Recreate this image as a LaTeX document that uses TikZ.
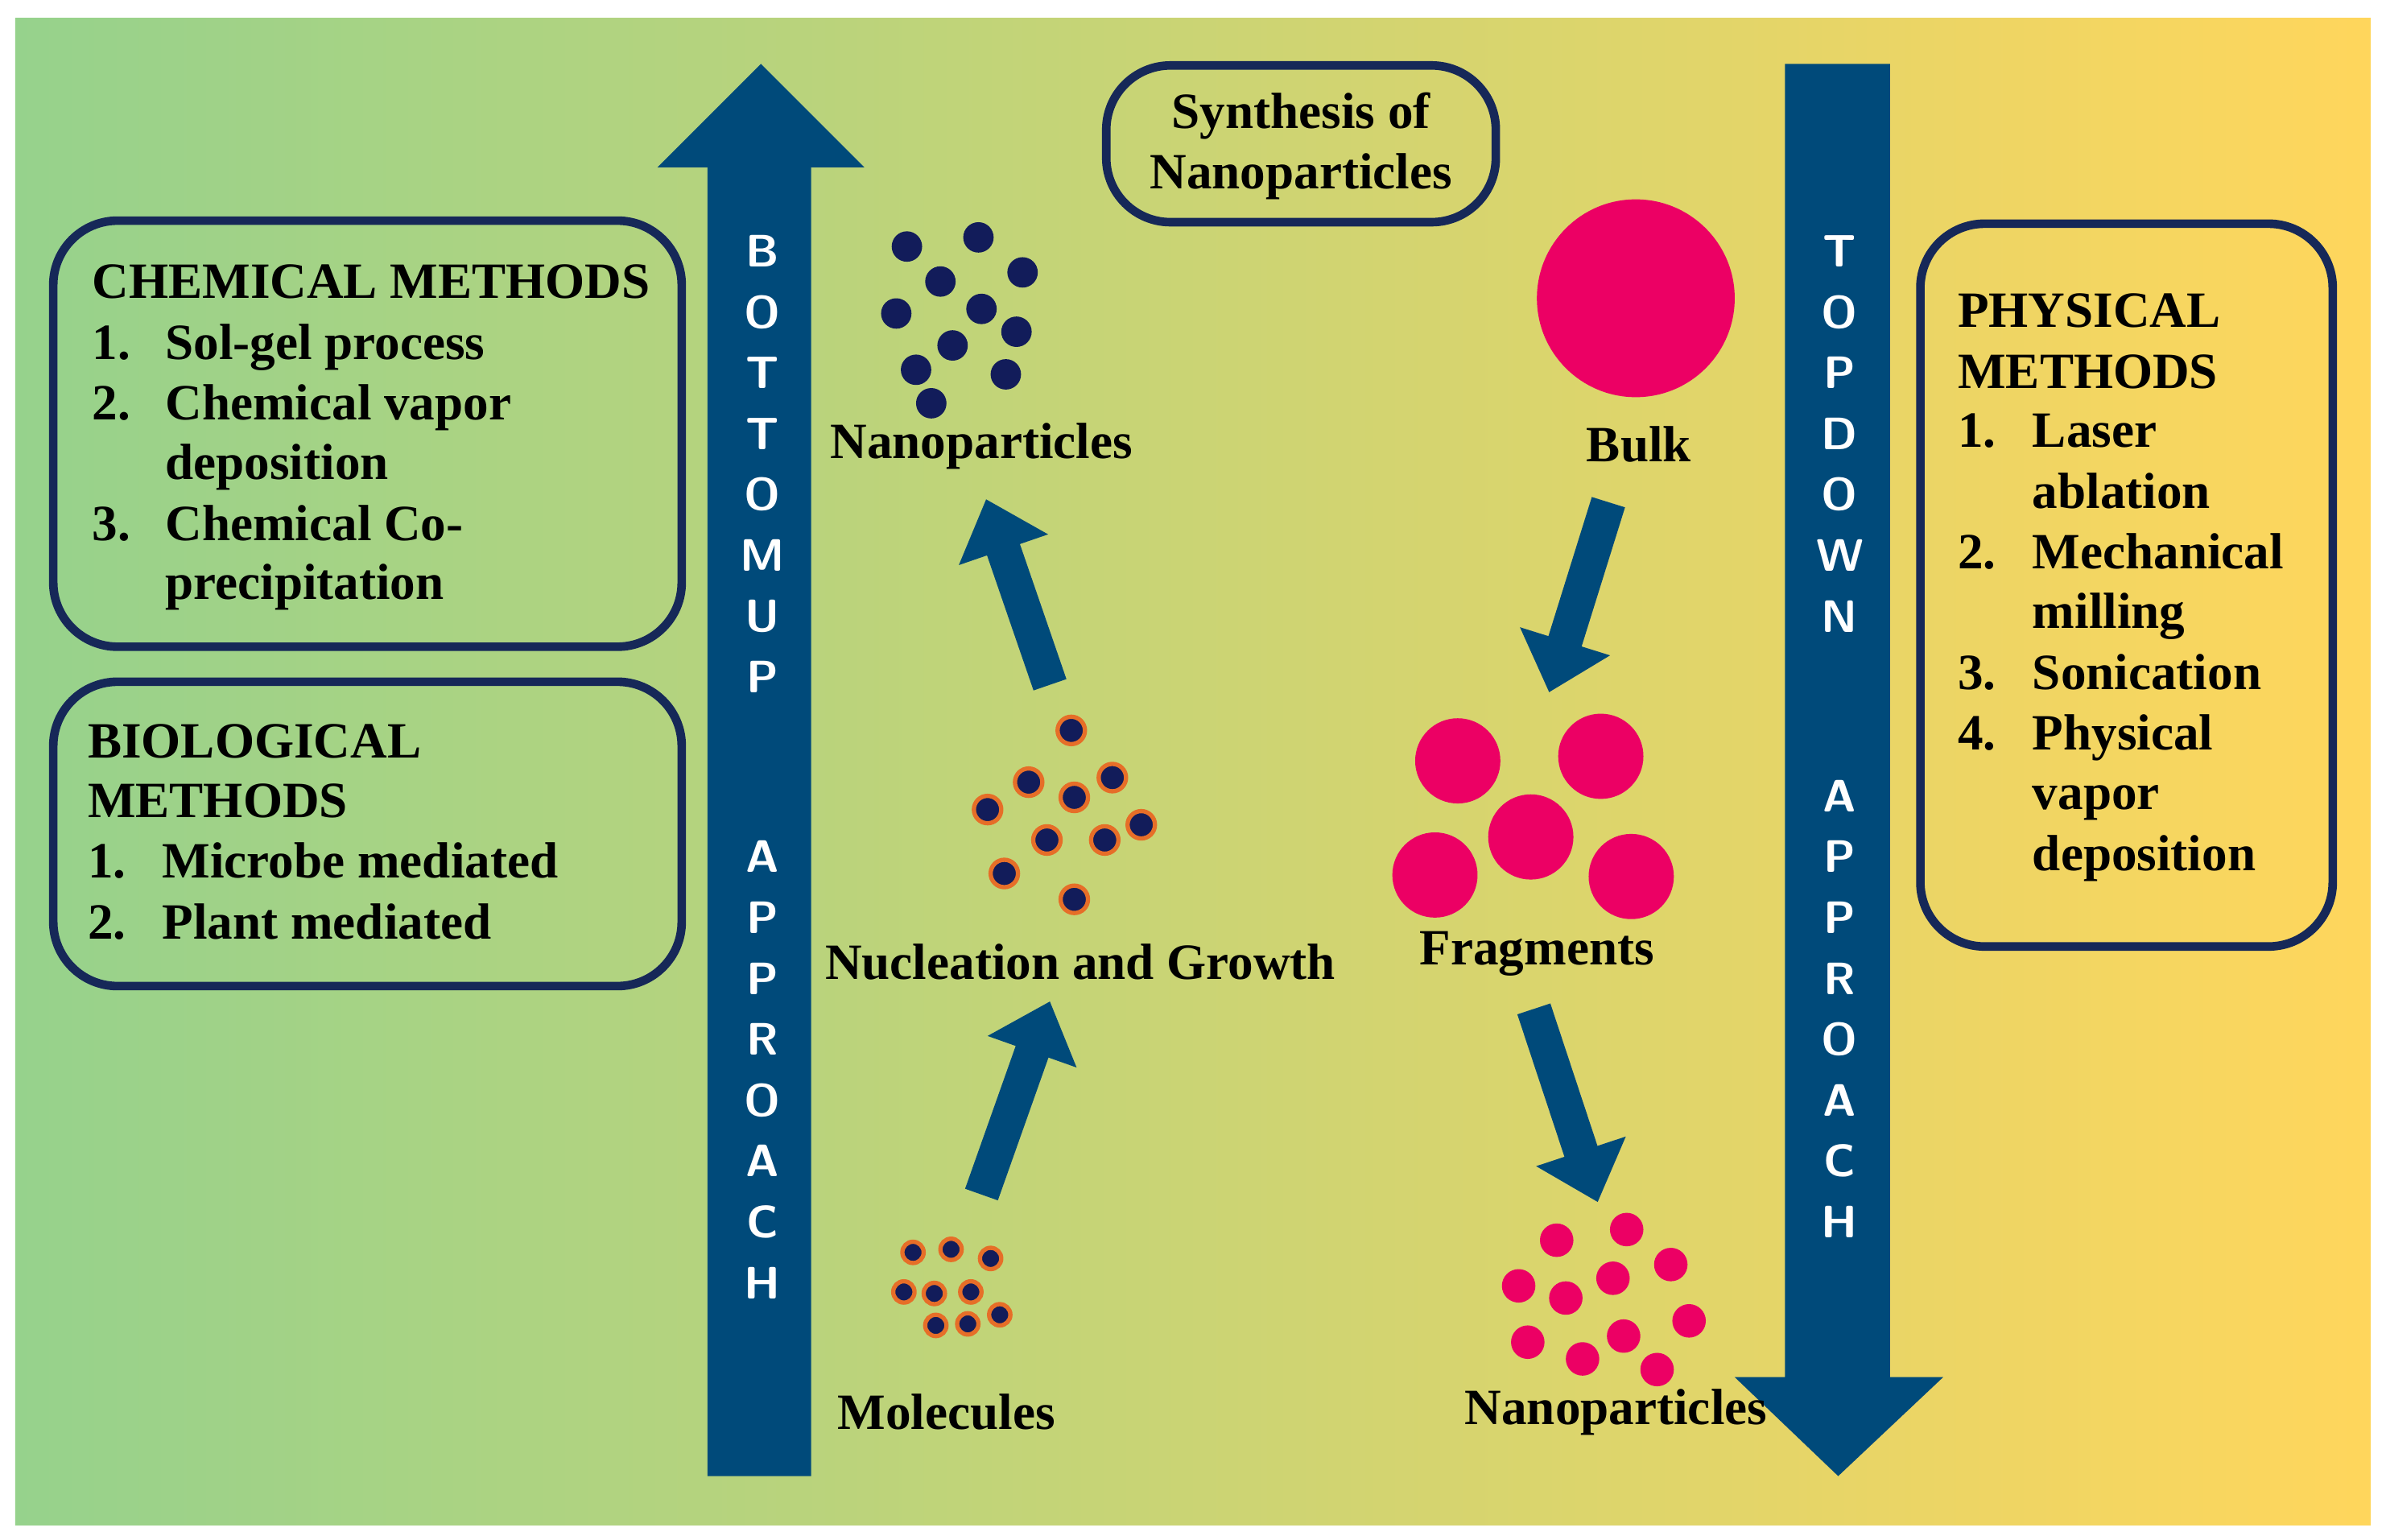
\documentclass[tikz,border=0pt]{standalone}
\usepackage{fontspec}
\setmainfont{Liberation Serif}
\usetikzlibrary{arrows.meta,positioning}
\definecolor{arrblue}{RGB}{0,74,122}
\definecolor{boxblue}{RGB}{22,40,88}
\definecolor{navy}{RGB}{18,28,90}
\definecolor{pinkp}{RGB}{236,0,100}
\definecolor{orng}{RGB}{230,110,40}
\definecolor{bgleft}{RGB}{150,210,140}
\definecolor{bgright}{RGB}{255,214,92}
\tikzset{
  txt/.style={font=\fontsize{9.5}{11.4}\selectfont\bfseries, inner sep=0pt},
  item/.style={txt, anchor=base west},
  methbox/.style={draw=boxblue, line width=1.6pt, rounded corners=12pt},
  vlet/.style={font=\fontsize{8.5}{10}\selectfont\bfseries\sffamily, text=white, inner sep=0pt},
  stagearrow/.style={draw=arrblue, line width=6.5pt, -{Triangle[length=10pt,width=17pt]}},
  np/.style={fill=navy},
  ng/.style={fill=navy, draw=orng, line width=0.8pt},
  pk/.style={fill=pinkp}
}
\begin{document}
\begin{tikzpicture}[x=0.01cm,y=-0.01cm]
\useasboundingbox (0,0) rectangle (1568,1012);
% background
\shade[left color=bgleft, right color=bgright] (10,12) rectangle (1558,1002);
% big arrows
\fill[arrblue] (465,970) -- (465,110) -- (432,110) -- (500,42) -- (568,110) -- (533,110) -- (533,970) -- cycle;
\fill[arrblue] (1173,42) -- (1242,42) -- (1242,905) -- (1277,905) -- (1208,970) -- (1140,905) -- (1173,905) -- cycle;
\foreach \c [count=\i from 0] in {B,O,T,T,O,M,U,P}
  \node[vlet] at (501,165+40*\i) {\c};
\foreach \c [count=\i from 0] in {A,P,P,R,O,A,C,H}
  \node[vlet] at (501,563+40*\i) {\c};
\foreach \c [count=\i from 0] in {T,O,P,D,O,W,N}
  \node[vlet] at (1209,165+40*\i) {\c};
\foreach \c [count=\i from 0] in {A,P,P,R,O,A,C,H}
  \node[vlet] at (1209,523+40*\i) {\c};
% boxes
\draw[methbox] (35,145) rectangle (448,425);
\draw[methbox] (35,448) rectangle (448,648);
\draw[methbox] (1262,147) rectangle (1533,622);
\draw[methbox] (727,43) rectangle (983,146);
\node[txt, align=center] (title) at (855,96) {Synthesis of\\Nanoparticles};
% chemical methods
\node[item] (chem) at (60,196) {CHEMICAL METHODS};
\node[item] at (60,236) {1.};  \node[item] at (108,236) {Sol-gel process};
\node[item] at (60,276) {2.};  \node[item] at (108,276) {Chemical vapor};
\node[item] at (108,315) {deposition};
\node[item] at (60,355) {3.};  \node[item] at (108,355) {Chemical Co-};
\node[item] at (108,394) {precipitation};
% biological methods
\node[item] (bio) at (57,498) {BIOLOGICAL};
\node[item] at (57,537) {METHODS};
\node[item] at (57,577) {1.};  \node[item] at (106,577) {Microbe mediated};
\node[item] at (57,617) {2.};  \node[item] at (106,617) {Plant mediated};
% physical methods
\node[item] (phys) at (1286,215) {PHYSICAL};
\node[item] at (1286,255) {METHODS};
\node[item] at (1286,294) {1.};  \node[item] at (1335,294) {Laser};
\node[item] at (1335,334) {ablation};
\node[item] at (1286,374) {2.};  \node[item] at (1335,374) {Mechanical};
\node[item] at (1335,413) {milling};
\node[item] at (1286,453) {3.};  \node[item] at (1335,453) {Sonication};
\node[item] at (1286,493) {4.};  \node[item] at (1335,493) {Physical};
\node[item] at (1335,532) {vapor};
\node[item] at (1335,572) {deposition};
% bottom-up particles
\foreach \p in {(596,162),(643,156),(618,185),(672,179),(589,206),(645,203),(668,218),(626,227),(602,243),(661,246),(612,265)}
  \fill[np] \p circle[radius=10];
\foreach \p in {(704,480),(676,514),(731,511),(649,532),(706,524),(750,542),(688,552),(726,552),(660,574),(706,591)}
  \draw[ng] \p circle[radius=9];
\foreach \p in {(600,823),(625,821),(651,827),(594,849),(614,850),(638,849),(657,864),(615,871),(636,870)}
  \draw[ng] \p circle[radius=7];
% top-down particles
\fill[pk] (1075,196) circle[radius=65];
\foreach \p in {(958,500),(1052,497),(1006,550),(943,575),(1072,576)}
  \fill[pk] \p circle[radius=28];
\foreach \p in {(1023,815),(1069,808),(998,845),(1029,853),(1060,840),(1098,831),(1110,868),(1004,882),(1040,893),(1067,878),(1089,900)}
  \fill[pk] \p circle[radius=11];
% labels
\node[txt] (nanoA) at (645,293) {Nanoparticles};
\node[txt] (nucl) at (710,632) {Nucleation and Growth};
\node[txt] (mol) at (622,928) {Molecules};
\node[txt] (bulk) at (1077,292) {Bulk};
\node[txt] (frag) at (1010,627) {Fragments};
\node[txt] (nanoB) at (1062,928) {Nanoparticles};
% step arrows
\coordinate (s1) at (645,785); \coordinate (e1) at (690,658);
\coordinate (s2) at (690,450); \coordinate (e2) at (648,328);
\coordinate (s3) at (1057,330); \coordinate (e3) at (1018,455);
\coordinate (s4) at (1008,663); \coordinate (e4) at (1050,790);
\draw[stagearrow] (s1) -- (e1);
\draw[stagearrow] (s2) -- (e2);
\draw[stagearrow] (s3) -- (e3);
\draw[stagearrow] (s4) -- (e4);
\end{tikzpicture}
\end{document}
